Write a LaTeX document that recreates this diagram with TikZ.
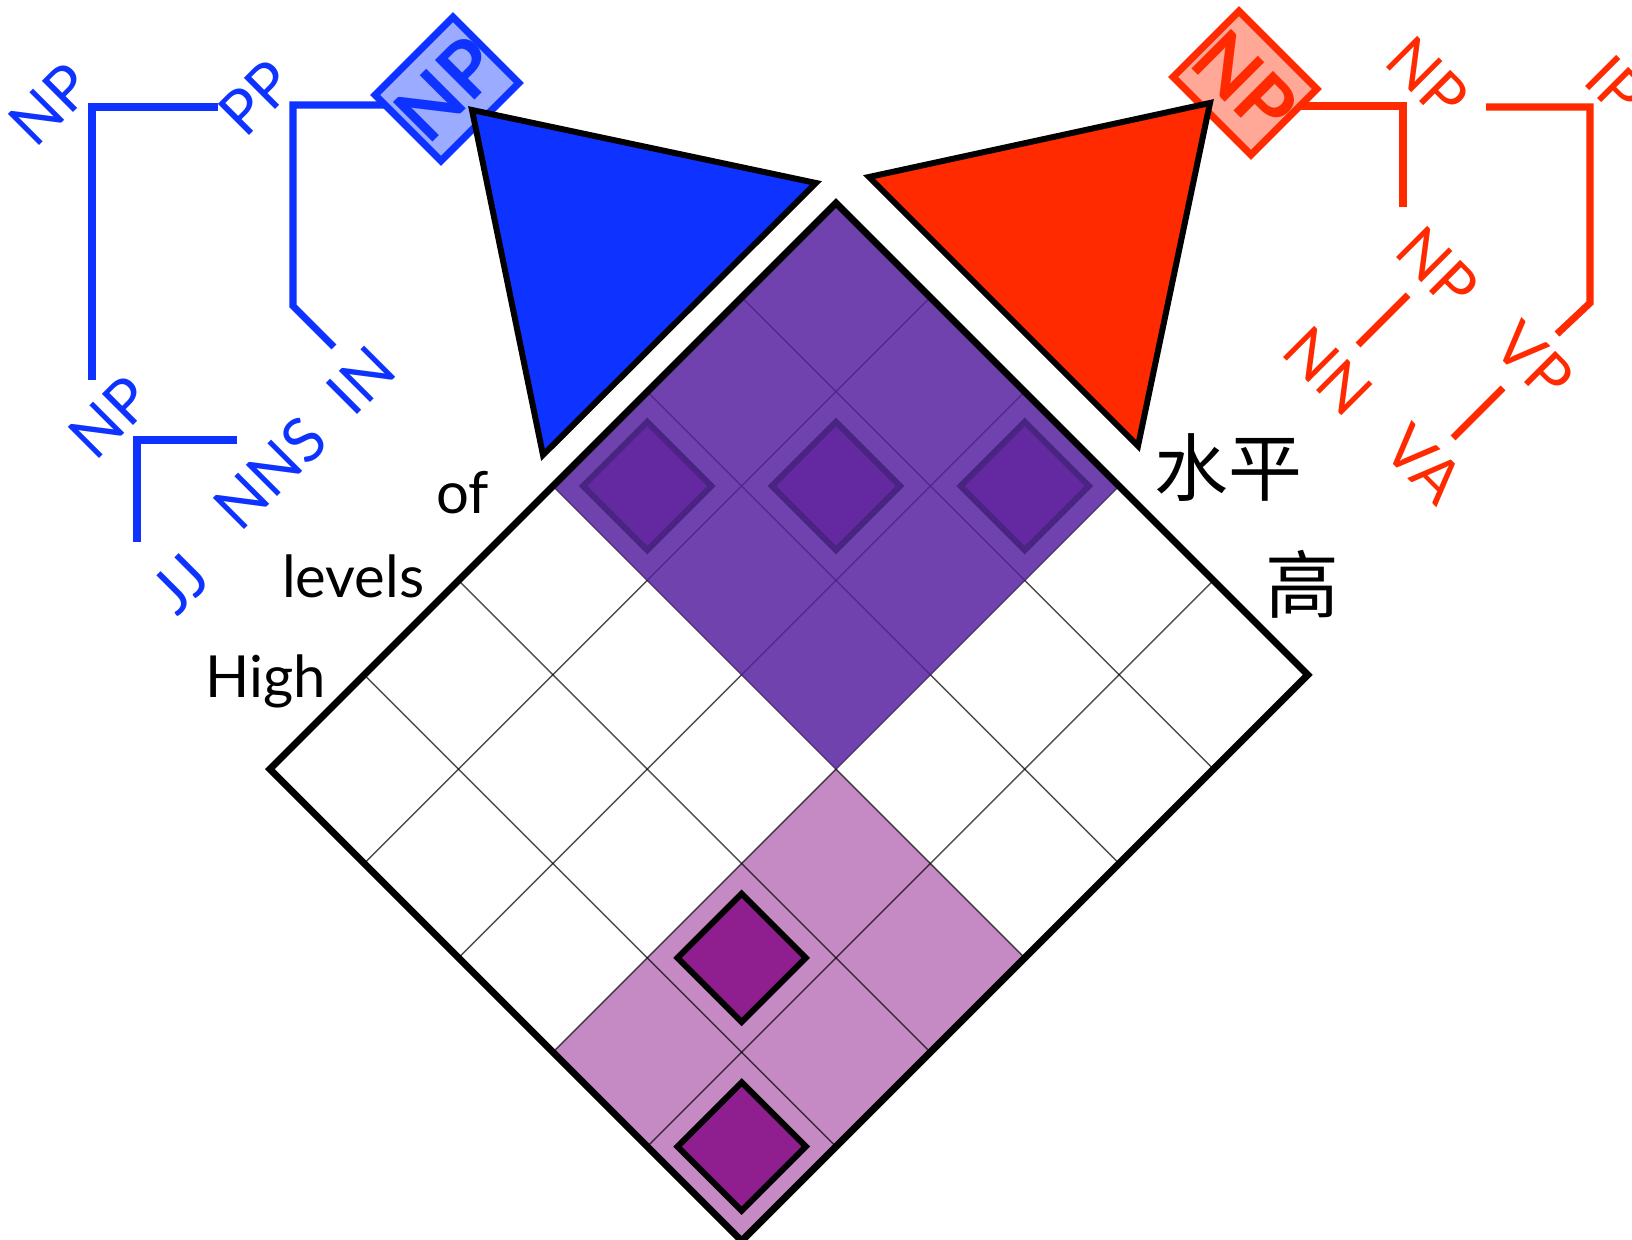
\documentclass[tikz,border=0pt]{standalone}
\usepackage{fontspec}
\setmainfont{Lato}
\newfontfamily\cjk{Noto Sans CJK SC}
\usetikzlibrary{backgrounds}

\definecolor{treeblue}{RGB}{14,50,255}
\definecolor{treered}{RGB}{255,42,0}
\definecolor{boxblue}{RGB}{155,171,255}
\definecolor{boxred}{RGB}{255,168,152}
\definecolor{darkcell}{RGB}{87,33,159}
\definecolor{darkspan}{RGB}{100,41,160}
\definecolor{darkedge}{RGB}{74,36,130}
\definecolor{lightcell}{RGB}{197,138,195}
\definecolor{lightspan}{RGB}{143,31,143}

\tikzset{
  blabel/.style={text=treeblue, rotate=45, inner sep=0pt, font=\fontsize{17.5}{17.5}\selectfont},
  rlabel/.style={text=treered, rotate=-45, inner sep=0pt, font=\fontsize{17.5}{17.5}\selectfont},
  btree/.style={draw=treeblue, line width=2pt},
  rtree/.style={draw=treered, line width=2pt},
  npbox/.style={line width=2pt, minimum width=1.1cm, minimum height=0.93cm, inner sep=0pt,
    font=\fontsize{22}{22}\selectfont\bfseries},
  word/.style={anchor=base east, inner sep=0pt, font=\fontsize{16.5}{16.5}\selectfont},
  hanzi/.style={inner sep=0pt, font=\fontsize{21}{21}\selectfont\cjk},
  tri/.style={draw=black, line width=1.7pt, line join=miter},
  cellline/.style={draw=black, line width=0.4pt, opacity=0.7},
  span/.style={line width=1.7pt, line join=miter}
}

\begin{document}
\begin{tikzpicture}[x=0.01cm, y=-0.01cm]
    \useasboundingbox (0,0) rectangle (1632,1240);

    % english tree (blue)
    \node[npbox, rotate=45, draw=treeblue, fill=boxblue, text=treeblue] (bnp0) at (447,89) {NP};
    \node[blabel] (bnp1) at (50,104) {NP};
    \node[blabel] (bpp) at (256,98) {PP};
    \node[blabel] (bnp2) at (110,417) {NP};
    \node[blabel] (bin) at (361,380) {IN};
    \node[blabel] (bnns) at (270,473) {NNS};
    \node[blabel] (bjj) at (180,584) {JJ};
    \draw[tri, fill=treeblue] (472,110) -- (816,183) -- (543,455) -- cycle;

    % chinese tree (red)
    \node[npbox, rotate=-45, draw=treered, fill=boxred, text=treered] (rnp0) at (1245,83) {NP};
    \node[rlabel] (rnp1) at (1428,78) {NP};
    \node[rlabel] (rip) at (1616,86) {IP};
    \node[rlabel] (rnp2) at (1438,268) {NP};
    \node[rlabel] (rnn) at (1328,371) {NN};
    \node[rlabel] (rvp) at (1534,361) {VP};
    \node[rlabel] (rva) at (1424,464) {VA};
    \draw[tri, fill=treered] (869,177) -- (1210,103) -- (1138,446) -- cycle;

    % branches go behind the boxes
    \begin{scope}[on background layer]
        \path (92,107) coordinate (b1) (218,107) coordinate (b1a) (92,380) coordinate (b1b);
        \path (293,105) coordinate (b2) (293,306) coordinate (b2b) (334,347) coordinate (b2c);
        \path (137,440) coordinate (b3) (237,440) coordinate (b3a) (137,542) coordinate (b3b);
        \draw[btree] (b1a) -- (b1) -- (b1b);
        \draw[btree] (bnp0.center |- b2) -- (b2) -- (b2b) -- (b2c);
        \draw[btree] (b3a) -- (b3) -- (b3b);

        \path (1403,106) coordinate (r1) (1403,207) coordinate (r1b);
        \path (1590,107) coordinate (r2) (1486,107) coordinate (r2a) (1590,303) coordinate (r2b) (1557,334) coordinate (r2c);
        \path (1408,295) coordinate (r3a) (1358,345) coordinate (r3b);
        \path (1503,388) coordinate (r4a) (1453,438) coordinate (r4b);
        \draw[rtree] (rnp0.center |- r1) -- (r1) -- (r1b);
        \draw[rtree] (r2a) -- (r2) -- (r2b) -- (r2c);
        \draw[rtree] (r3a) -- (r3b);
        \draw[rtree] (r4a) -- (r4b);
    \end{scope}

    % chart, in cell units
    \begin{scope}[shift={(836,203)}, x={(0.943cm,-0.943cm)}, y={(-0.943cm,-0.943cm)}]
        \fill[lightcell] (3,3) -- (5,3) -- (5,6) -- (3,6) -- cycle;
        \foreach \i in {1,...,4} \draw[cellline] (\i,0) -- (\i,6);
        \foreach \j in {1,...,5} \draw[cellline] (0,\j) -- (5,\j);
        % top block lets the lines show through a little
        \fill[darkcell, opacity=0.85] (0,0) -- (3,0) -- (3,3) -- (0,3) -- cycle;
        \foreach \c in {(0.5,2.5),(1.5,1.5),(2.5,0.5)}
            \draw[span, draw=darkedge, fill=darkspan] \c +(-0.34,-0.34) -- +(0.34,-0.34) -- +(0.34,0.34) -- +(-0.34,0.34) -- cycle;
        \foreach \c in {(3.5,4.5),(4.5,5.5)}
            \draw[span, draw=black, fill=lightspan] \c +(-0.34,-0.34) -- +(0.34,-0.34) -- +(0.34,0.34) -- +(-0.34,0.34) -- cycle;
        \draw[line width=2pt, line join=miter] (0,0) -- (5,0) -- (5,6) -- (0,6) -- cycle;
    \end{scope}

    \node[word] (of) at (490,514) {of};
    \node[word] (levels) at (425,598) {levels};
    \node[word] (high) at (327,698) {High};
    \node[hanzi] (shuiping) at (1228,468) {水平};
    \node[hanzi] (gao) at (1302,584) {高};
\end{tikzpicture}
\end{document}
